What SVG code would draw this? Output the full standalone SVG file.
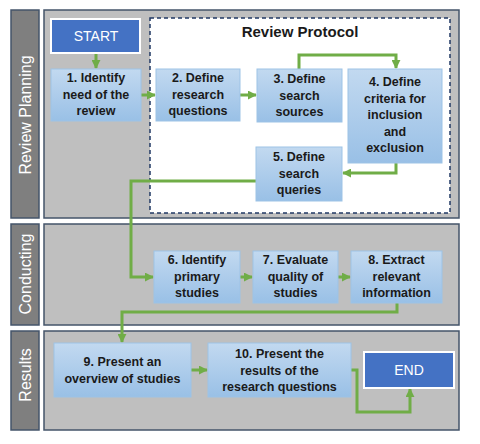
<svg xmlns="http://www.w3.org/2000/svg" width="480" height="444" viewBox="0 0 480 444">
<defs>
<linearGradient id="bg" x1="0" y1="0" x2="0" y2="1">
<stop offset="0" stop-color="#C2D9F0"/>
<stop offset="1" stop-color="#99C0E6"/>
</linearGradient>
<marker id="ah" viewBox="0 0 10 10" refX="9" refY="5" markerWidth="3" markerHeight="3" orient="auto" markerUnits="strokeWidth">
<path d="M0,0 L10,5 L0,10 Z" fill="#70AD47"/>
</marker>
<style>
.panel{fill:#BFBFBF;stroke:#44546A;stroke-width:1.5}
.bar{fill:#7F7F7F;stroke:#44546A;stroke-width:1.5}
.bar-t{font-family:"Liberation Sans",Arial,sans-serif;font-size:16px;fill:#FFFFFF;text-anchor:middle}
.box{fill:url(#bg);stroke:#9DC3E6;stroke-width:1}
.bt{font-family:"Liberation Sans",Arial,sans-serif;font-size:12.5px;font-weight:bold;fill:#1A1A1A;text-anchor:middle}
.term{fill:#4472C4;stroke:#FFFFFF;stroke-width:2}
.tt{font-family:"Liberation Sans",Arial,sans-serif;font-size:14px;fill:#FFFFFF;text-anchor:middle}
.c{fill:none;stroke:#70AD47;stroke-width:3;marker-end:url(#ah)}
</style>
</defs>
<g id="lanes">
<rect class="bar" x="11" y="10" width="28" height="208"/>
<rect class="panel" x="44" y="10" width="415" height="208"/>
<text class="bar-t" transform="translate(31,115) rotate(-90)">Review Planning</text>
<rect class="bar" x="11" y="224" width="28" height="101"/>
<rect class="panel" x="44" y="224" width="415" height="101"/>
<text class="bar-t" transform="translate(31,274) rotate(-90)">Conducting</text>
<rect class="bar" x="11" y="331" width="28" height="99"/>
<rect class="panel" x="44" y="331" width="415" height="99"/>
<text class="bar-t" transform="translate(31,375) rotate(-90)">Results</text>
</g>
<g id="protocol">
<rect x="150" y="18" width="300" height="195" fill="#FFFFFF" stroke="#203864" stroke-width="1.5" stroke-dasharray="4,3"/>
<text x="300" y="37" font-family="Liberation Sans,Arial,sans-serif" font-size="15" font-weight="bold" fill="#1A1A1A" text-anchor="middle">Review Protocol</text>
</g>
<g id="connectors">
<path class="c" d="M96,53 V68"/>
<path class="c" d="M141,95 H155"/>
<path class="c" d="M240,95 H256"/>
<path class="c" d="M299,69 V55 H396 V68"/>
<path class="c" d="M396,163 V173 H343"/>
<path class="c" d="M256,181 H131 V277 H153"/>
<path class="c" d="M240,277 H252"/>
<path class="c" d="M338,277 H350"/>
<path class="c" d="M397,303 V312 H122 V342"/>
<path class="c" d="M191,370 H207"/>
<path class="c" d="M351,370 H357 V412 H410 V389"/>
</g>
<g id="start">
<rect class="term" x="51" y="19" width="89" height="34"/>
<text class="tt" x="96" y="41">START</text>
</g>
<g id="n1">
<rect class="box" x="51" y="69" width="90" height="52"/>
<text class="bt" x="96" y="82">1. Identify</text>
<text class="bt" x="96" y="98.5">need of the</text>
<text class="bt" x="96" y="115">review</text>
</g>
<g id="n2">
<rect class="box" x="156" y="69" width="84" height="52"/>
<text class="bt" x="198" y="82">2. Define</text>
<text class="bt" x="198" y="98.5">research</text>
<text class="bt" x="198" y="115">questions</text>
</g>
<g id="n3">
<rect class="box" x="257" y="69" width="85" height="53"/>
<text class="bt" x="299.5" y="83">3. Define</text>
<text class="bt" x="299.5" y="99.5">search</text>
<text class="bt" x="299.5" y="116">sources</text>
</g>
<g id="n4">
<rect class="box" x="348" y="69" width="94" height="94"/>
<text class="bt" x="395" y="86">4. Define</text>
<text class="bt" x="395" y="102.5">criteria for</text>
<text class="bt" x="395" y="119">inclusion</text>
<text class="bt" x="395" y="135.5">and</text>
<text class="bt" x="395" y="152">exclusion</text>
</g>
<g id="n5">
<rect class="box" x="256" y="147" width="86" height="54"/>
<text class="bt" x="299" y="161">5. Define</text>
<text class="bt" x="299" y="177.5">search</text>
<text class="bt" x="299" y="194">queries</text>
</g>
<g id="n6">
<rect class="box" x="154" y="251" width="86" height="52"/>
<text class="bt" x="197" y="264">6. Identify</text>
<text class="bt" x="197" y="280.5">primary</text>
<text class="bt" x="197" y="297">studies</text>
</g>
<g id="n7">
<rect class="box" x="253" y="251" width="85" height="52"/>
<text class="bt" x="295.5" y="264">7. Evaluate</text>
<text class="bt" x="295.5" y="280.5">quality of</text>
<text class="bt" x="295.5" y="297">studies</text>
</g>
<g id="n8">
<rect class="box" x="351" y="251" width="91" height="52"/>
<text class="bt" x="396.5" y="264">8. Extract</text>
<text class="bt" x="396.5" y="280.5">relevant</text>
<text class="bt" x="396.5" y="297">information</text>
</g>
<g id="n9">
<rect class="box" x="54" y="343" width="137" height="54"/>
<text class="bt" x="122.5" y="366">9. Present an</text>
<text class="bt" x="122.5" y="382.5">overview of studies</text>
</g>
<g id="n10">
<rect class="box" x="208" y="343" width="143" height="54"/>
<text class="bt" x="279.5" y="358">10. Present the</text>
<text class="bt" x="279.5" y="374.5">results of the</text>
<text class="bt" x="279.5" y="391">research questions</text>
</g>
<g id="end">
<rect class="term" x="364" y="352" width="90" height="36"/>
<text class="tt" x="409" y="375">END</text>
</g>
</svg>
